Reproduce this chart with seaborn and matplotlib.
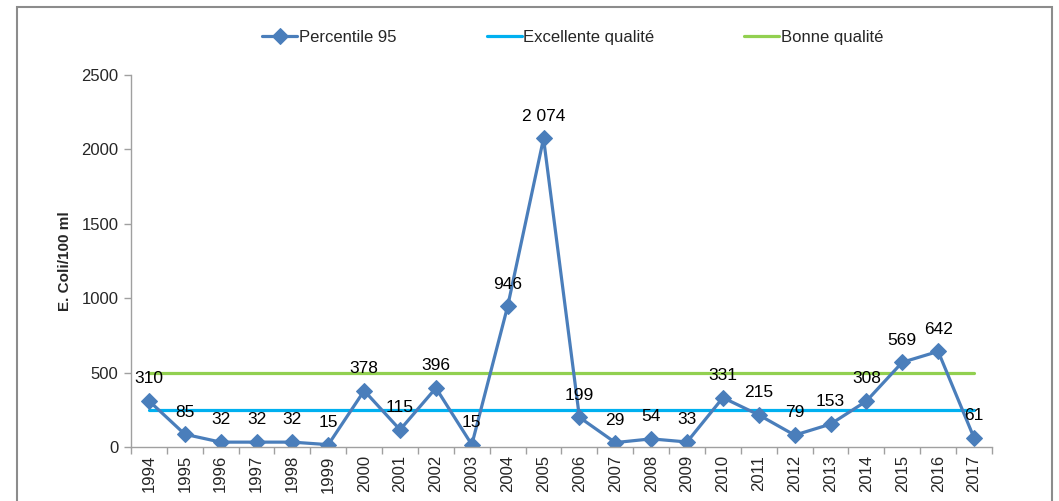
import matplotlib.pyplot as plt
import matplotlib.patches as mpatches
import numpy as np
import pandas as pd
import seaborn as sns

years = [str(y) for y in range(1994, 2018)]
percentile_95 = [310, 85, 32, 32, 32, 15, 378, 115, 396, 15, 946, 2074,
                 199, 29, 54, 33, 331, 215, 79, 153, 308, 569, 642, 61]
excellente = [250] * len(years)
bonne = [500] * len(years)

df = pd.DataFrame({'annee': years, 'p95': percentile_95,
                   'excellente': excellente, 'bonne': bonne})

sns.set_style('white')
plt.rcParams['font.family'] = ['Liberation Sans', 'DejaVu Sans']

fig = plt.figure(figsize=(10.59, 5.01), dpi=100)
ax = fig.add_axes([0.1237, 0.108, 0.813, 0.742])

sns.lineplot(data=df, x='annee', y='excellente', ax=ax, color='#00B0F0',
             linewidth=2.3, label='Excellente qualité', sort=False)
sns.lineplot(data=df, x='annee', y='bonne', ax=ax, color='#92D050',
             linewidth=2.3, label='Bonne qualité', sort=False)
sns.lineplot(data=df, x='annee', y='p95', ax=ax, color='#4A7EBB',
             linewidth=2.3, marker='D', markersize=8, markeredgecolor='#4A7EBB',
             label='Percentile 95', sort=False)

for i, v in enumerate(percentile_95):
    ax.annotate(f"{v:,}".replace(',', ' '), (i, v), xytext=(0, 16),
                textcoords='offset points', ha='center', va='center',
                fontsize=12.5, color='black')

ax.set_xlim(-0.5, len(years) - 0.5)
ax.set_ylim(0, 2500)
ax.set_yticks(np.arange(0, 2501, 500))
ax.set_xticks(range(len(years)))
ax.set_xticklabels(years, rotation=90)
ax.set_xticks(np.arange(-0.5, len(years)), minor=True)
ax.tick_params(axis='x', which='major', length=0, labelsize=12, pad=6)
ax.tick_params(axis='x', which='minor', length=5, color='#A0A0A0', width=1)
ax.tick_params(axis='y', length=5, color='#A0A0A0', width=1, labelsize=12, pad=4)
ax.tick_params(axis='both', direction='out', left=True, bottom=True)
ax.xaxis.set_tick_params(which='minor', bottom=True)

for s in ['top', 'right']:
    ax.spines[s].set_visible(False)
for s in ['left', 'bottom']:
    ax.spines[s].set_color('#A0A0A0')
    ax.spines[s].set_linewidth(1)

ax.set_xlabel('')
ax.set_ylabel('E. Coli/100 ml', fontsize=11, fontweight='bold', labelpad=7)

handles, labels = ax.get_legend_handles_labels()
order = [2, 0, 1]
ax.get_legend().remove()
fig.legend([handles[i] for i in order], [labels[i] for i in order],
           loc='center', bbox_to_anchor=(0.541, 0.926), ncol=3, frameon=False,
           fontsize=12, handlelength=2.1, handletextpad=0.1, columnspacing=5.4)

fig.patches.append(mpatches.Rectangle((17 / 1059, -0.05), 1035 / 1059, 1.036,
                                      transform=fig.transFigure, fill=False,
                                      edgecolor='#8C8C8C', linewidth=1.5))

fig.savefig('out.png', dpi=100)
